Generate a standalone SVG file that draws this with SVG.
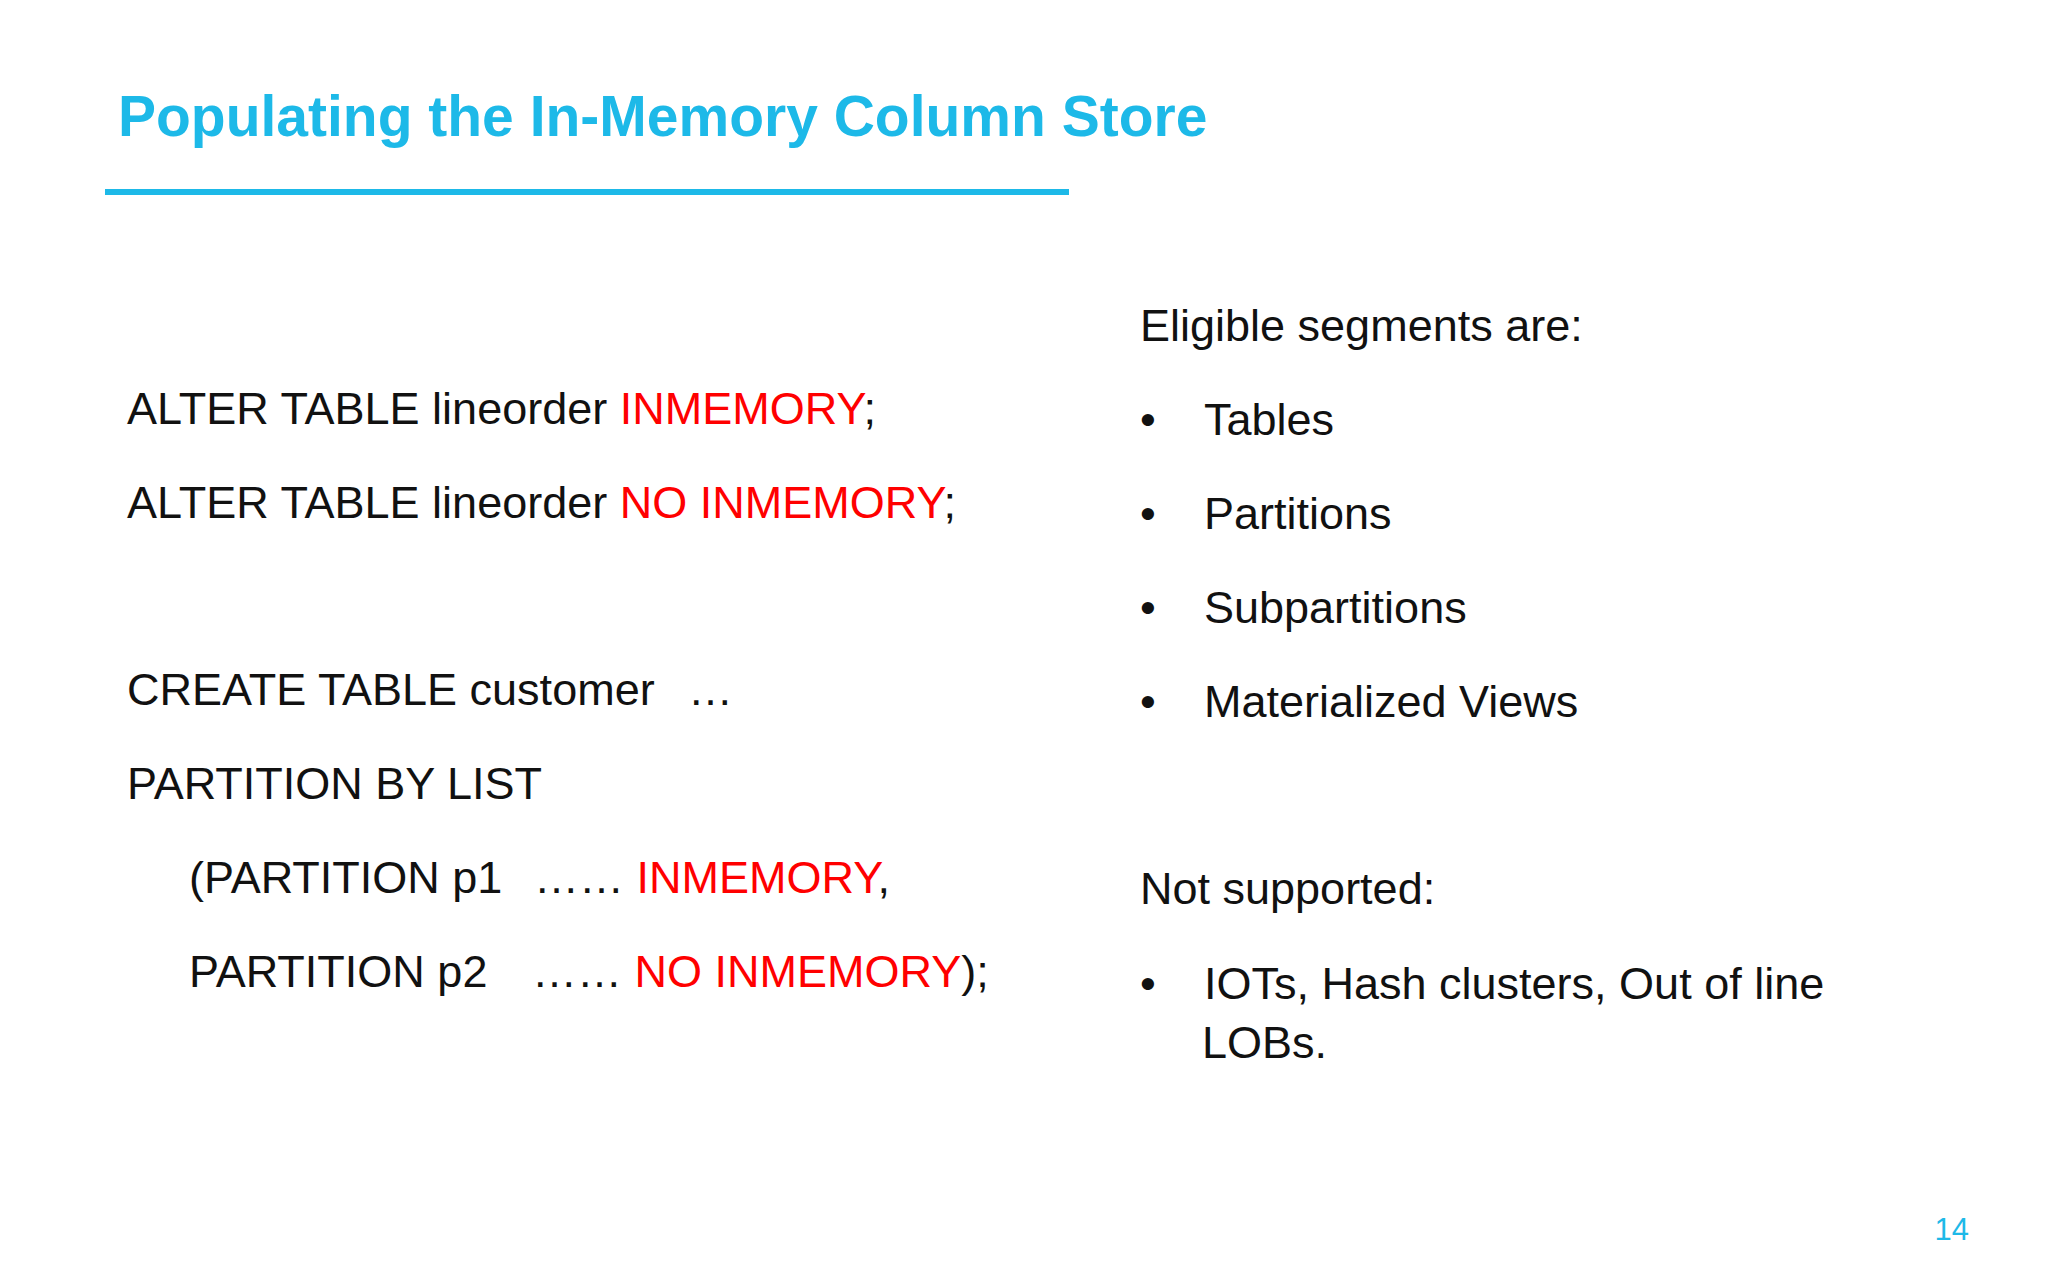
<svg xmlns="http://www.w3.org/2000/svg" width="2048" height="1280" viewBox="0 0 2048 1280">
<style>
text{font-family:"Liberation Sans",Arial,sans-serif;fill:#111}
.b{font-size:45px}
.r{fill:#FF0000}
</style>
<rect width="2048" height="1280" fill="#fff"/>
<g id="title">
<text x="118" y="136" style="font-size:57px;font-weight:bold;fill:#1DB9E8">Populating the In-Memory Column Store</text>
<rect x="105" y="189" width="964" height="6" fill="#1DB9E8"/>
</g>
<g id="left">
<text class="b" x="127" y="424">ALTER TABLE lineorder <tspan class="r">INMEMORY</tspan>;</text>
<text class="b" x="127" y="518">ALTER TABLE lineorder <tspan class="r">NO INMEMORY</tspan>;</text>
<text class="b" x="127" y="705">CREATE TABLE customer<tspan x="688">…</tspan></text>
<text class="b" x="127" y="799">PARTITION BY LIST</text>
<text class="b" x="189" y="893">(PARTITION p1<tspan x="534">…… </tspan><tspan class="r">INMEMORY</tspan>,</text>
<text class="b" x="189" y="987">PARTITION p2<tspan x="532">…… </tspan><tspan class="r">NO INMEMORY</tspan>);</text>
</g>
<g id="right">
<text class="b" x="1140" y="341">Eligible segments are:</text>
<text class="b" x="1140" y="435">•</text><text class="b" x="1204" y="435">Tables</text>
<text class="b" x="1140" y="529">•</text><text class="b" x="1204" y="529">Partitions</text>
<text class="b" x="1140" y="623">•</text><text class="b" x="1204" y="623">Subpartitions</text>
<text class="b" x="1140" y="717">•</text><text class="b" x="1204" y="717">Materialized Views</text>
<text class="b" x="1140" y="904">Not supported:</text>
<text class="b" x="1140" y="999">•</text><text class="b" x="1204" y="999">IOTs, Hash clusters, Out of line</text>
<text class="b" x="1202" y="1058">LOBs.</text>
</g>
<text x="1969" y="1240" text-anchor="end" style="font-size:31px;fill:#1DB9E8">14</text>
</svg>
